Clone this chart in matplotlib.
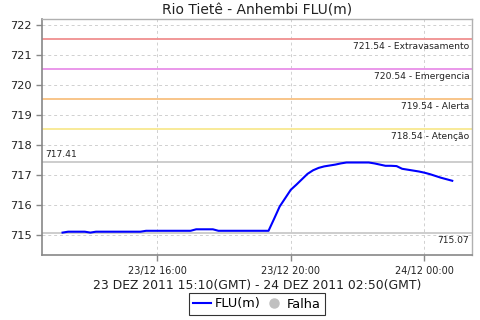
import matplotlib
matplotlib.use("Agg")
import matplotlib.pyplot as plt
import matplotlib.dates as mdates
from matplotlib.lines import Line2D
import pandas as pd

plt.rcParams['font.family'] = ['DejaVu Sans']

title = "Rio Tietê - Anhembi FLU(m)"
xlabel = "23 DEZ 2011 15:10(GMT) - 24 DEZ 2011 02:50(GMT)"
start_time = "2011-12-23 13:10"
step = "10min"
flu = [715.07, 715.10, 715.10, 715.10, 715.10, 715.07, 715.10, 715.10, 715.10, 715.10,
       715.10, 715.10, 715.10, 715.10, 715.10, 715.13, 715.13, 715.13, 715.13, 715.13,
       715.13, 715.13, 715.13, 715.13, 715.18, 715.18, 715.18, 715.18, 715.13, 715.13,
       715.13, 715.13, 715.13, 715.13, 715.13, 715.13, 715.13, 715.13, 715.53, 715.94,
       716.22, 716.50, 716.67, 716.85, 717.03, 717.15, 717.23, 717.28, 717.31, 717.34,
       717.38, 717.41, 717.41, 717.41, 717.41, 717.41, 717.38, 717.34, 717.30, 717.30,
       717.29, 717.20, 717.17, 717.14, 717.11, 717.07, 717.02, 716.96, 716.90, 716.85,
       716.80]
thresholds = [721.54, 720.54, 719.54, 718.54]
threshold_names = ["Extravasamento", "Emergencia", "Alerta", "Atenção"]
threshold_colors = ["#f09090", "#e890e8", "#f8c080", "#f8e890"]
max_val = 717.41
min_val = 715.07
yticks = [715, 716, 717, 718, 719, 720, 721, 722]
xticks = ["2011-12-23 16:00", "2011-12-23 20:00", "2011-12-24 00:00"]

times = pd.date_range(start_time, periods=len(flu), freq=step)

fig = plt.figure(figsize=(4.8, 3.2), dpi=100)
ax = fig.add_axes([0.0885, 0.202, 0.8955, 0.7386])

for v, name, c in zip(thresholds, threshold_names, threshold_colors):
    ax.axhline(v, color=c, lw=1.3, zorder=2)
    ax.text(0.993, v - 0.12, f"{v:.2f} - {name}", transform=ax.get_yaxis_transform(),
            ha="right", va="top", fontsize=6.6, color="#222222")
ax.axhline(max_val, color="#c0c0c0", lw=1.1, zorder=2)
ax.axhline(min_val, color="#c0c0c0", lw=1.1, zorder=2)
ax.text(0.007, max_val + 0.12, f"{max_val:.2f}", transform=ax.get_yaxis_transform(),
        ha="left", va="bottom", fontsize=6.6, color="#222222")
ax.text(0.993, min_val - 0.12, f"{min_val:.2f}", transform=ax.get_yaxis_transform(),
        ha="right", va="top", fontsize=6.6, color="#222222")

ax.plot(times, flu, color="#0000ff", lw=1.5, zorder=3)

span = times[-1] - times[0]
ax.set_xlim(times[0] - span * 0.0515, times[-1] + span * 0.0515)
ax.set_ylim(714.31, 722.2)
ax.set_yticks(yticks)
ax.set_yticklabels([str(t) for t in yticks])
ax.set_xticks(pd.to_datetime(xticks))
ax.xaxis.set_major_formatter(mdates.DateFormatter("%d/%m %H:%M"))
ax.grid(True, color="#d0d0d0", ls=(0, (3, 3)), lw=0.7)
ax.set_axisbelow(True)

for s in ["top", "right"]:
    ax.spines[s].set_color("#b0b0b0")
    ax.spines[s].set_linewidth(1.0)
for s in ["left", "bottom"]:
    ax.spines[s].set_color("#888888")
    ax.spines[s].set_linewidth(1.2)
ax.tick_params(axis="both", colors="#888888", labelcolor="#222222", length=4, width=1)
ax.tick_params(axis="y", labelsize=8.2)
ax.tick_params(axis="x", labelsize=7)

ax.set_title(title, fontsize=10, pad=3, color="#222222")
ax.set_xlabel(xlabel, fontsize=8.9, labelpad=2, color="#222222")

handles = [Line2D([], [], color="#0000ff", lw=1.5),
           Line2D([], [], color="#c0c0c0", marker="o", ls="none", markersize=6.5)]
leg = fig.legend(handles, ["FLU(m)", "Falha"], loc="center", bbox_to_anchor=(0.535, 0.05),
                 ncol=2, fontsize=9.3, frameon=True, fancybox=False, handlelength=1.4,
                 handletextpad=0.3, columnspacing=0.3, borderpad=0.35, edgecolor="black")
leg.get_frame().set_linewidth(0.8)

fig.savefig("out.png", dpi=100)
